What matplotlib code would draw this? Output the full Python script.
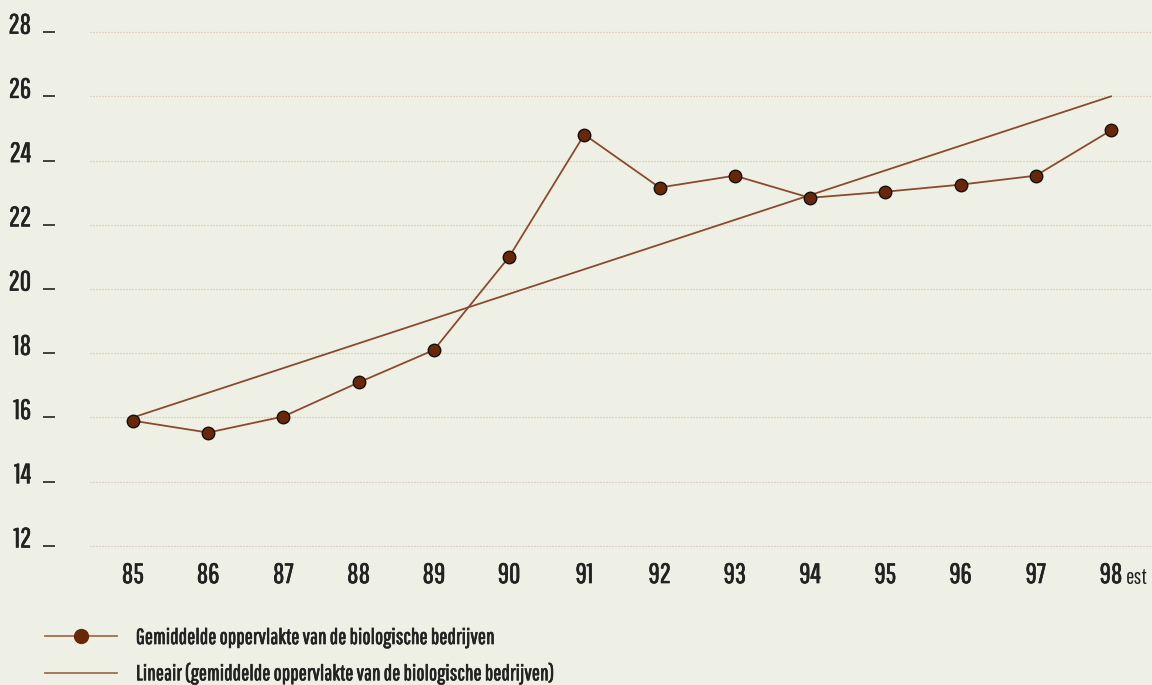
import matplotlib
matplotlib.use('Agg')
from matplotlib import pyplot as plt
from matplotlib import transforms
from matplotlib import patheffects
from matplotlib.lines import Line2D

years = [85, 86, 87, 88, 89, 90, 91, 92, 93, 94, 95, 96, 97, 98]
year_labels = ['85', '86', '87', '88', '89', '90', '91', '92', '93', '94', '95', '96', '97', '98']
area = [15.9, 15.53, 16.03, 17.09, 18.1, 21.0, 24.81, 23.16, 23.53, 22.84, 23.03, 23.25, 23.53, 24.94]
trend_x = [85, 98]
trend_y = [16.0, 26.0]
y_ticks = [12, 14, 16, 18, 20, 22, 24, 26, 28]

label_main = 'Gemiddelde oppervlakte van de biologische bedrijven'
label_trend = 'Lineair (gemiddelde oppervlakte van de biologische bedrijven)'

BG = '#eff0e5'
LINE = '#8a4a2e'
DOT = '#6a2608'
TEXT = '#222222'

plt.rcParams['font.family'] = ['Pathway Gothic One', 'DejaVu Sans']
bold = [patheffects.withStroke(linewidth=0.5, foreground=TEXT)]

fig = plt.figure(figsize=(11.52, 6.85), dpi=100, facecolor=BG)
ax = fig.add_axes([90 / 1152, 1 - 562 / 685, 1 - 90 / 1152, 562 / 685])
ax.set_facecolor(BG)

ax.plot(trend_x, trend_y, color=LINE, lw=1.3, zorder=2)
ax.plot(years, area, color=LINE, lw=1.3, marker='o', ms=9, mfc=DOT,
        mec='#111111', mew=1.0, zorder=3)

ax.set_xlim(84.43, 98.545)
ax.set_ylim(11.5, 29)

for s in ax.spines.values():
    s.set_visible(False)

ax.set_yticks(y_ticks)
ax.set_yticklabels([str(v) for v in y_ticks])
ax.grid(axis='y', linestyle=(0, (0.8, 1.6)), color='#d4b4a2', lw=0.9)
ax.set_axisbelow(True)

# ticks sit 35 px left of the plot area
ax.spines['left'].set_position(('outward', 35 * 0.72))
ax.tick_params(axis='y', length=12 * 0.72, width=1.2, color=TEXT, pad=8.5,
               labelsize=20, labelcolor=TEXT)
off = transforms.ScaledTranslation(0, 9 / 100, fig.dpi_scale_trans)
for lab in ax.get_yticklabels():
    lab.set_transform(lab.get_transform() + off)
    lab.set_path_effects(bold)

ax.set_xticks(years)
ax.set_xticklabels(year_labels)
ax.tick_params(axis='x', length=0, pad=0, labelsize=20, labelcolor=TEXT)
for lab in ax.get_xticklabels():
    lab.set_path_effects(bold)
ax.annotate('est', xy=(98, 0), xycoords=ax.get_xaxis_transform(),
            xytext=(11, -4), textcoords='offset points',
            ha='left', va='top', fontsize=16, color=TEXT)

handles = [
    Line2D([], [], color='#a0704e', lw=1.3, marker='o', ms=10, mfc=DOT, mec=DOT),
    Line2D([], [], color='#a0704e', lw=1.3),
]
leg = fig.legend(handles, [label_main, label_trend], loc='upper left',
                 bbox_to_anchor=(45 / 1152, 1 - 628 / 685), frameon=False,
                 fontsize=15.6, handlelength=3.3, handletextpad=0.9,
                 borderpad=0, borderaxespad=0,
                 labelspacing=0.7, labelcolor=TEXT)
for t in leg.get_texts():
    t.set_path_effects(bold)

fig.savefig('out.png', dpi=100, facecolor=BG)
